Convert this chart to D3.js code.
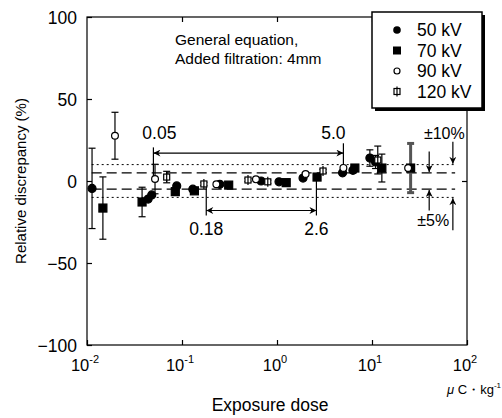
<!DOCTYPE html>
<html>
<head>
<meta charset="utf-8">
<script src="https://cdn.jsdelivr.net/npm/d3@7"></script>
<style>
  body { margin: 0; background: #fff; }
  text { font-family: "Liberation Sans", Arial, sans-serif; fill: #000; }
</style>
</head>
<body>
<div id="chart"></div>
<script>
// series: exposure dose (uC/kg), relative discrepancy (%), error (+/- %)
const kv50x = [0.0113, 0.044, 0.048, 0.088, 0.13, 0.25, 0.68, 1.05, 1.88, 4.9, 6.3, 9.5, 10.9];
const kv50y = [-4.5, -11, -8.5, -3, -5, -2, 0, -0.5, 1.8, 5, 6.5, 14, 11.6];
const kv50e = [24.5, 0, 0, 1.5, 1, 1, 0, 0, 1, 1, 1, 5, 4];

const kv70x = [0.0147, 0.038, 0.085, 0.135, 0.31, 1.25, 2.64, 6.6, 12.7, 25.5];
const kv70y = [-16.5, -12.8, -6.5, -6, -2.5, -1, 2.4, 7.9, 7.9, 7.9];
const kv70e = [19, 9, 2, 1, 1, 1, 1, 2, 8.5, 15];

const kv90x = [0.0197, 0.052, 0.23, 0.6, 2.0, 5.0, 24];
const kv90y = [27.6, 1.2, -2, 1, 4.3, 8, 7.9];
const kv90e = [14.3, 9, 0, 0, 0, 0, 0];

const kv120x = [0.069, 0.17, 0.495, 0.8, 3.05, 11.5];
const kv120y = [2.4, -1.8, 0.6, -0.5, 6.1, 12.8];
const kv120e = [3.5, 1, 1, 1, 1, 8.5];

const seriesNames = ["50 kV", "70 kV", "90 kV", "120 kV"];
const xTicks = [0.01, 0.1, 1, 10, 100];
const xTickExp = ["-2", "-1", "0", "1", "2"];
const yTicks = [-100, -50, 0, 50, 100];

// range markers: [dose, label]
const rangeWide = [[0.05, "0.05"], [5.0, "5.0"]];
const rangeNarrow = [[0.18, "0.18"], [2.6, "2.6"]];

const width = 502, height = 418;
const margin = {top: 17, right: 35, bottom: 73, left: 87};

const svg = d3.select("#chart").append("svg")
  .attr("width", width)
  .attr("height", height);

const x = d3.scaleLog()
  .domain([0.01, 100])
  .range([margin.left, width - margin.right]);
const y = d3.scaleLinear()
  .domain([-100, 100])
  .range([height - margin.bottom, margin.top]);

// frame
svg.append("rect")
  .attr("x", x(0.01)).attr("y", y(100))
  .attr("width", x(100) - x(0.01)).attr("height", y(-100) - y(100))
  .attr("fill", "none").attr("stroke", "#000").attr("stroke-width", 1.2);

// axes
let yAxis = svg.append("g")
  .attr("transform", `translate(${x(0.01)},0)`)
  .call(d3.axisLeft(y).tickValues(yTicks).tickSize(-5).tickPadding(10));
yAxis.select(".domain").remove();
yAxis.attr("font-size", null).attr("font-family", null);
yAxis.selectAll("text").style("font-size", "17.5px").attr("dy", "0.36em");

let rAxis = svg.append("g")
  .attr("transform", `translate(${x(100)},0)`)
  .call(d3.axisRight(y).tickValues([0]).tickSize(-5).tickFormat(""));
rAxis.select(".domain").remove();

let tAxis = svg.append("g")
  .attr("transform", `translate(0,${y(100)})`)
  .call(d3.axisTop(x).tickValues(xTicks.slice(1, 4)).tickSize(-5).tickFormat(""));
tAxis.select(".domain").remove();

let xAxis = svg.append("g")
  .attr("transform", `translate(0,${y(-100)})`)
  .call(d3.axisBottom(x).tickValues(xTicks).tickSize(-5).tickFormat(""));
xAxis.select(".domain").remove();
svg.selectAll(".tick line").attr("stroke-width", 1.2);

svg.append("g").selectAll("text")
  .data(xTicks)
  .join("text")
  .attr("x", d => x(d) - 2)
  .attr("y", y(-100) + 26)
  .attr("text-anchor", "middle")
  .style("font-size", "16.5px")
  .each(function (d, i) {
    const t = d3.select(this);
    t.append("tspan").text("10");
    t.append("tspan").attr("dy", -8).style("font-size", "11px").text(xTickExp[i]);
  });

svg.append("text")
  .attr("x", width - 1).attr("y", y(-100) + 49)
  .attr("text-anchor", "end")
  .style("font-size", "13px")
  .html("<tspan font-style='italic'>μ</tspan> C・kg<tspan dy='-6' style='font-size:8px'>-1</tspan>");

svg.append("text")
  .attr("x", 270).attr("y", 411)
  .attr("text-anchor", "middle")
  .style("font-size", "17.5px")
  .text("Exposure dose");

svg.append("text")
  .attr("transform", `translate(26,${y(0)}) rotate(-90)`)
  .attr("text-anchor", "middle")
  .style("font-size", "15px")
  .text("Relative discrepancy (%)");

// +/-5% dashed, +/-10% dotted
const bandX0 = x(0.0112), bandX1 = x(75);
[5, -5].forEach(v => svg.append("line")
  .attr("x1", bandX0).attr("x2", bandX1).attr("y1", y(v)).attr("y2", y(v))
  .attr("stroke", "#000").attr("stroke-width", 1.2).attr("stroke-dasharray", "10,5"));
[10, -10].forEach(v => svg.append("line")
  .attr("x1", bandX0).attr("x2", bandX1).attr("y1", y(v)).attr("y2", y(v))
  .attr("stroke", "#000").attr("stroke-width", 1).attr("stroke-dasharray", "2,3"));

// arrow markers
const defs = svg.append("defs");
defs.append("marker")
  .attr("id", "arr")
  .attr("viewBox", "0 0 10 10")
  .attr("refX", 10).attr("refY", 5)
  .attr("markerWidth", 10).attr("markerHeight", 7)
  .attr("markerUnits", "userSpaceOnUse")
  .attr("orient", "auto-start-reverse")
  .append("path")
  .attr("d", "M0,0 L10,5 L0,10 L3,5 Z")
  .attr("fill", "#000");

function vline(xv, y1, y2) {
  svg.append("line")
    .attr("x1", x(xv)).attr("x2", x(xv)).attr("y1", y1).attr("y2", y2)
    .attr("stroke", "#000").attr("stroke-width", 1.2);
}
function arrow(x1, y1, x2, y2, both) {
  const l = svg.append("line")
    .attr("x1", x1).attr("y1", y1).attr("x2", x2).attr("y2", y2)
    .attr("stroke", "#000").attr("stroke-width", 1.2)
    .attr("marker-end", "url(#arr)");
  if (both) l.attr("marker-start", "url(#arr)");
}
function label(tx, ty, s, size, anchor) {
  svg.append("text")
    .attr("x", tx).attr("y", ty)
    .attr("text-anchor", anchor || "middle")
    .style("font-size", (size || 17.5) + "px")
    .text(s);
}

// 0.05 - 5.0 range
vline(rangeWide[0][0], y(20.5), y(0));
vline(rangeWide[1][0], y(23), y(9));
arrow(x(rangeWide[0][0]), y(17), x(rangeWide[1][0]), y(17), true);
label(x(rangeWide[0][0]) + 6, y(17) - 14, rangeWide[0][1]);
label(x(rangeWide[1][0]) - 10, y(17) - 14, rangeWide[1][1]);

// 0.18 - 2.6 range
vline(rangeNarrow[0][0], y(-3), y(-21));
vline(rangeNarrow[1][0], y(2), y(-21));
arrow(x(rangeNarrow[0][0]), y(-18), x(rangeNarrow[1][0]), y(-18), true);
label(x(rangeNarrow[0][0]), y(-18) + 24, rangeNarrow[0][1]);
label(x(rangeNarrow[1][0]), y(-18) + 24, rangeNarrow[1][1]);

// +/- band arrows
arrow(x(40), y(18), x(40), y(5.5), false);
arrow(x(71), y(24), x(71), y(10.5), false);
arrow(x(40), y(-18), x(40), y(-5.5), false);
arrow(x(71), y(-30), x(71), y(-10.5), false);
label(x(55) + 2, y(17) - 14, "±10%", 16);
label(x(40) + 4, y(-18) + 15, "±5%", 16);

// error bars
function errorBars(xs, ys, es, color, w) {
  const d = xs.map((v, i) => ({x: v, y: ys[i], e: es[i]})).filter(p => p.e > 0);
  const g = svg.append("g").attr("stroke", color).attr("stroke-width", w || 1.2);
  g.selectAll(".v").data(d).join("line")
    .attr("x1", p => x(p.x)).attr("x2", p => x(p.x))
    .attr("y1", p => y(p.y + p.e)).attr("y2", p => y(p.y - p.e));
  g.selectAll(".c1").data(d).join("line")
    .attr("x1", p => x(p.x) - 3.5).attr("x2", p => x(p.x) + 3.5)
    .attr("y1", p => y(p.y + p.e)).attr("y2", p => y(p.y + p.e));
  g.selectAll(".c2").data(d).join("line")
    .attr("x1", p => x(p.x) - 3.5).attr("x2", p => x(p.x) + 3.5)
    .attr("y1", p => y(p.y - p.e)).attr("y2", p => y(p.y - p.e));
}
errorBars(kv50x, kv50y, kv50e, "#000");
errorBars(kv70x.slice(0, -1), kv70y.slice(0, -1), kv70e.slice(0, -1), "#000");
errorBars(kv70x.slice(-1), kv70y.slice(-1), kv70e.slice(-1), "#555", 3);
errorBars(kv90x, kv90y, kv90e, "#000");
errorBars(kv120x, kv120y, kv120e, "#000");

// markers
function circles(xs, ys, filled) {
  svg.append("g").selectAll("circle")
    .data(xs.map((v, i) => [v, ys[i]]))
    .join("circle")
    .attr("cx", d => x(d[0])).attr("cy", d => y(d[1]))
    .attr("r", filled ? 4 : 3.4)
    .attr("fill", filled ? "#000" : "#fff")
    .attr("stroke", "#000").attr("stroke-width", 1.2);
}
function squares(xs, ys, filled) {
  const s = filled ? 8 : 6;
  const g = svg.append("g").selectAll("g")
    .data(xs.map((v, i) => [v, ys[i]]))
    .join("g")
    .attr("transform", d => `translate(${x(d[0])},${y(d[1])})`);
  g.append("rect")
    .attr("x", -s / 2).attr("y", -s / 2).attr("width", s).attr("height", s)
    .attr("fill", filled ? "#000" : "#fff")
    .attr("stroke", "#000").attr("stroke-width", 1.2);
  if (!filled) {
    g.append("line").attr("x1", 0).attr("x2", 0).attr("y1", -s / 2 - 2).attr("y2", s / 2 + 2)
      .attr("stroke", "#000").attr("stroke-width", 1.2);
  }
}
circles(kv50x, kv50y, true);
squares(kv70x, kv70y, true);
circles(kv90x, kv90y, false);
squares(kv120x, kv120y, false);

// annotation
label(175, 45, "General equation,", 15.5, "start");
label(175, 64, "Added filtration: 4mm", 15.5, "start");

// legend
const lg = svg.append("g");
lg.append("rect").attr("x", 375).attr("y", 15).attr("width", 110).attr("height", 96).attr("fill", "#000");
lg.append("rect").attr("x", 372).attr("y", 12).attr("width", 110).attr("height", 96)
  .attr("fill", "#fff").attr("stroke", "#000").attr("stroke-width", 1.5);
seriesNames.forEach((n, i) => {
  const cy = 30 + i * 20.5;
  if (i === 0) lg.append("circle").attr("cx", 397).attr("cy", cy).attr("r", 3.8).attr("fill", "#000");
  if (i === 1) lg.append("rect").attr("x", 393).attr("y", cy - 4).attr("width", 8).attr("height", 8).attr("fill", "#000");
  if (i === 2) lg.append("circle").attr("cx", 397).attr("cy", cy).attr("r", 3).attr("fill", "#fff").attr("stroke", "#000").attr("stroke-width", 1.2);
  if (i === 3) {
    lg.append("rect").attr("x", 394).attr("y", cy - 3).attr("width", 6).attr("height", 6).attr("fill", "#fff").attr("stroke", "#000").attr("stroke-width", 1.2);
    lg.append("line").attr("x1", 397).attr("x2", 397).attr("y1", cy - 5).attr("y2", cy + 5).attr("stroke", "#000").attr("stroke-width", 1.2);
  }
  lg.append("text").attr("x", 417).attr("y", cy + 6)
    .style("font-size", "17.5px").text(n);
});
</script>
</body>
</html>
